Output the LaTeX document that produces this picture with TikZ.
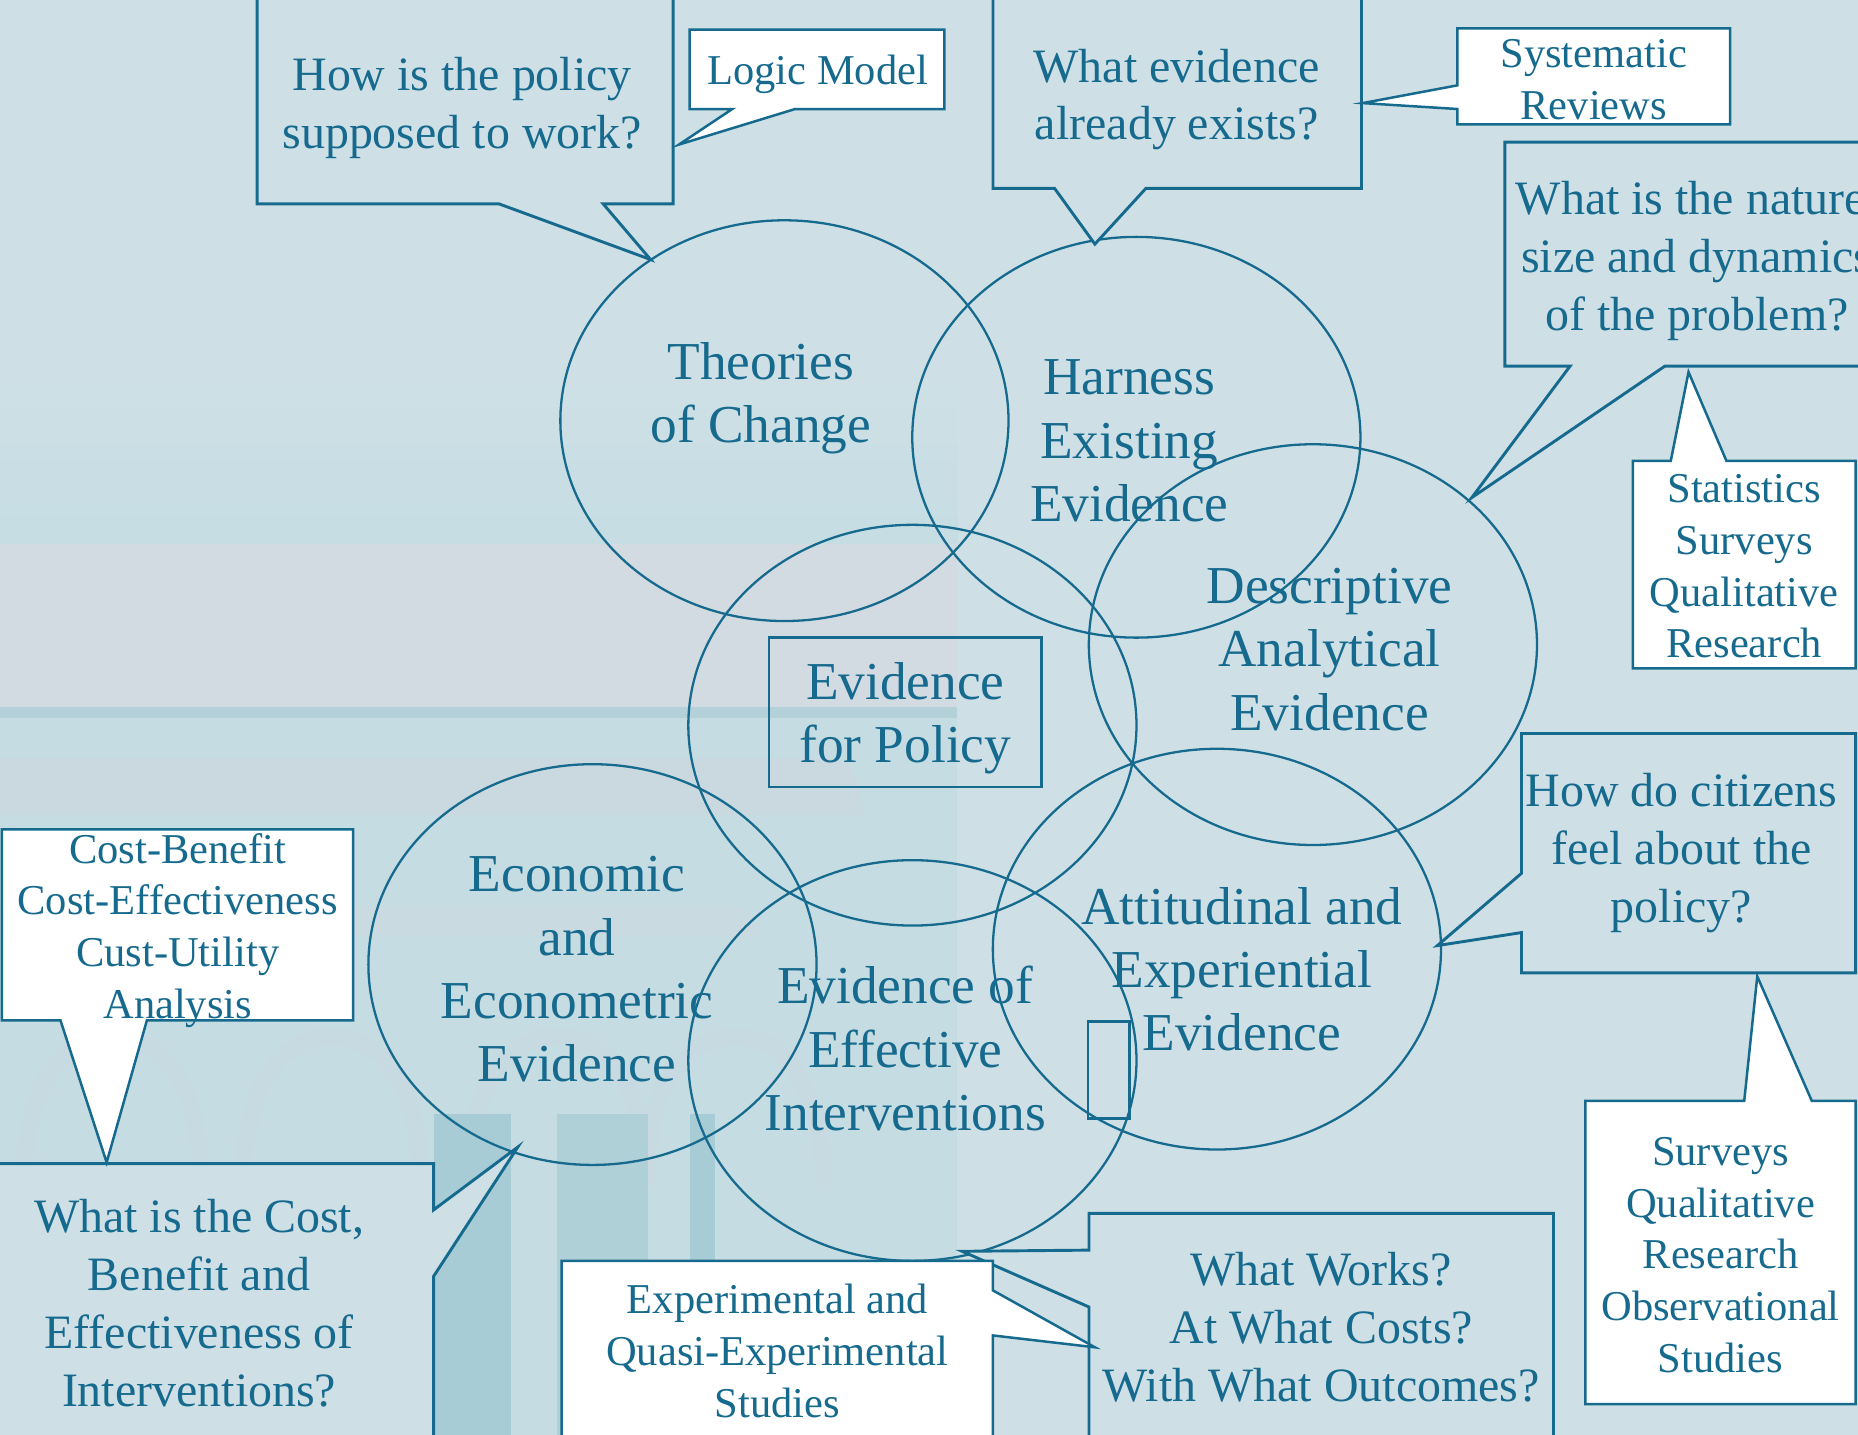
\documentclass[tikz,border=0pt]{standalone}
\usepackage{fontspec}
\setmainfont{Liberation Serif}
\usetikzlibrary{shapes.geometric}
\definecolor{evline}{RGB}{22,106,142}
\definecolor{evbg}{RGB}{206,224,230}
\definecolor{evtint}{RGB}{197,221,227}
\definecolor{evgray}{RGB}{211,219,226}
\definecolor{evrail}{RGB}{180,208,216}
\definecolor{evlow}{RGB}{197,220,226}
\definecolor{evpale}{RGB}{205,217,224}
\definecolor{evcol}{RGB}{176,208,216}
\definecolor{evdark}{RGB}{168,204,213}
\tikzset{
  venn/.style={ellipse, draw=evline, line width=0.55pt, minimum width=3.78cm, minimum height=3.38cm, inner sep=0pt},
  venntext/.style={align=center, text=evline, font=\fontsize{12.8}{15.2}\selectfont},
  asktext/.style={align=center, text=evline, font=\fontsize{11.5}{13.9}\selectfont},
  tooltext/.style={align=center, text=evline, font=\fontsize{10.2}{12.4}\selectfont},
  askbox/.style={draw=evline, fill=evbg, line width=0.7pt},
  toolbox/.style={draw=evline, fill=white, line width=0.6pt}
}
\begin{document}
\begin{tikzpicture}[x=0.01cm,y=-0.01cm]
	\useasboundingbox (0,0) rectangle (1568,1211);
	\clip (0,0) rectangle (1568,1211);
	% faded building behind the diagram
	\fill[evbg] (0,0) rectangle (1568,1211);
	\shade[top color=evbg, bottom color=evtint] (0,320) rectangle (808,459);
	\fill[evgray] (0,459) rectangle (808,597);
	\fill[evrail] (0,597) rectangle (808,606);
	\fill[evlow] (0,606) rectangle (808,1211);
	\fill[evpale, opacity=0.7] (0,640) -- (700,640) to[out=0,in=90] (728,688) -- (0,688) -- cycle;
	\fill[evpale, opacity=0.6] (0,765) -- (615,765) to[out=0,in=90] (640,790) -- (0,790) -- cycle;
	\foreach \cx in {95,280,470,620} {
	    \draw[evpale, opacity=0.45, line width=4pt] (\cx-75,1000) to[out=90,in=180] (\cx,875) to[out=0,in=90] (\cx+75,1000);
	}
	\fill[evcol] (470,940) rectangle (547,1211);
	\fill[evdark] (366,940) rectangle (431,1211);
	\fill[evdark] (582,940) rectangle (603,1211);

	\node[venn] (toc) at (662,355) {};
	\node[venn] (harness) at (959,369) {};
	\node[venn] (descr) at (1108,544) {};
	\node[venn] (policy) at (770,612) {};
	\node[venn] (attit) at (1027,801) {};
	\node[venn] (econ) at (500,814) {};
	\node[venn] (effect) at (770,895) {};
	\node[draw=evline, line width=0.6pt, minimum width=2.3cm, minimum height=1.26cm, inner sep=0pt] (efp) at (764,601) {};

	\draw[askbox] (217,-5) -- (217,172) -- (421,172) -- (549,219) -- (509,172) -- (568,172) -- (568,-5) -- cycle;
	\draw[askbox] (838,-5) -- (838,159) -- (890,159) -- (924,206) -- (967,159) -- (1149,159) -- (1149,-5) -- cycle;
	\draw[askbox] (1270,120) -- (1270,309) -- (1325,309) -- (1242,420) -- (1405,309) -- (1600,309) -- (1600,120) -- cycle;
	\draw[askbox] (1284,619) -- (1284,737) -- (1213,798) -- (1284,787) -- (1284,821) -- (1566,821) -- (1566,619) -- cycle;
	\draw[askbox] (919,1024) -- (919,1055) -- (812,1056) -- (919,1103) -- (919,1220) -- (1311,1220) -- (1311,1024) -- cycle;
	\draw[askbox] (-5,982) -- (-5,1220) -- (366,1220) -- (366,1077) -- (437,968) -- (366,1021) -- (366,982) -- cycle;

	\draw[toolbox] (582,25) -- (582,92) -- (618,92) -- (573,122) -- (671,92) -- (797,92) -- (797,25) -- cycle;
	\draw[toolbox] (1230,24) -- (1230,72) -- (1150,87) -- (1230,92) -- (1230,105) -- (1460,105) -- (1460,24) -- cycle;
	\draw[toolbox] (1378,389) -- (1378,564) -- (1566,564) -- (1566,389) -- (1457,389) -- (1425,314) -- (1410,389) -- cycle;
	\draw[toolbox] (1338,929) -- (1338,1185) -- (1566,1185) -- (1566,929) -- (1529,929) -- (1483,824) -- (1472,929) -- cycle;
	\draw[toolbox] (1.5,700) -- (1.5,861) -- (51,861) -- (90,981) -- (124,861) -- (298,861) -- (298,700) -- cycle;
	\draw[toolbox] (474,1064) -- (474,1220) -- (838,1220) -- (838,1127) -- (924,1137) -- (838,1089) -- (838,1064) -- cycle;
	\draw[evline, line width=0.6pt] (918,862) rectangle (953,944);

	\node[venntext] (toclabel) at (642,336) {Theories\\of Change};
	\node[venntext] (harnesslabel) at (953,372) {Harness\\Existing\\Evidence};
	\node[venntext] (descrlabel) at (1122,548) {Descriptive\\Analytical\\Evidence};
	\node[venntext] (efplabel) at (764,606) {Evidence\\for Policy};
	\node[venntext] (attitlabel) at (1048,818) {Attitudinal and\\Experiential\\Evidence};
	\node[venntext] (econlabel) at (487,818) {Economic\\and\\Econometric\\Evidence};
	\node[venntext] (effectlabel) at (764,885) {Evidence of\\Effective\\Interventions};

	\node[asktext] (howwork) at (390,91) {How is the policy\\supposed to work?};
	\node[asktext] (exists) at (993,84) {What evidence\\already exists?};
	\node[asktext] (nature) at (1432,220) {What is the nature,\\size and dynamics\\of the problem?};
	\node[asktext] (citizens) at (1419,720) {How do citizens\\feel about the\\policy?};
	\node[asktext] (works) at (1115,1120) {What Works?\\At What Costs?\\With What Outcomes?};
	\node[asktext] (cost) at (168,1100) {What is the Cost,\\Benefit and\\Effectiveness of\\Interventions?};

	\node[tooltext] (logic) at (690,63) {Logic Model};
	\node[tooltext] (reviews) at (1345,67) {Systematic\\Reviews};
	\node[tooltext] (stats) at (1472,478) {Statistics\\Surveys\\Qualitative\\Research};
	\node[tooltext] (surveys) at (1452,1059) {Surveys\\Qualitative\\Research\\Observational\\Studies};
	\node[tooltext] (costben) at (150,785) {Cost-Benefit\\Cost-Effectiveness\\Cust-Utility\\Analysis};
	\node[tooltext] (experim) at (656,1140) {Experimental and\\Quasi-Experimental\\Studies};
\end{tikzpicture}
\end{document}
